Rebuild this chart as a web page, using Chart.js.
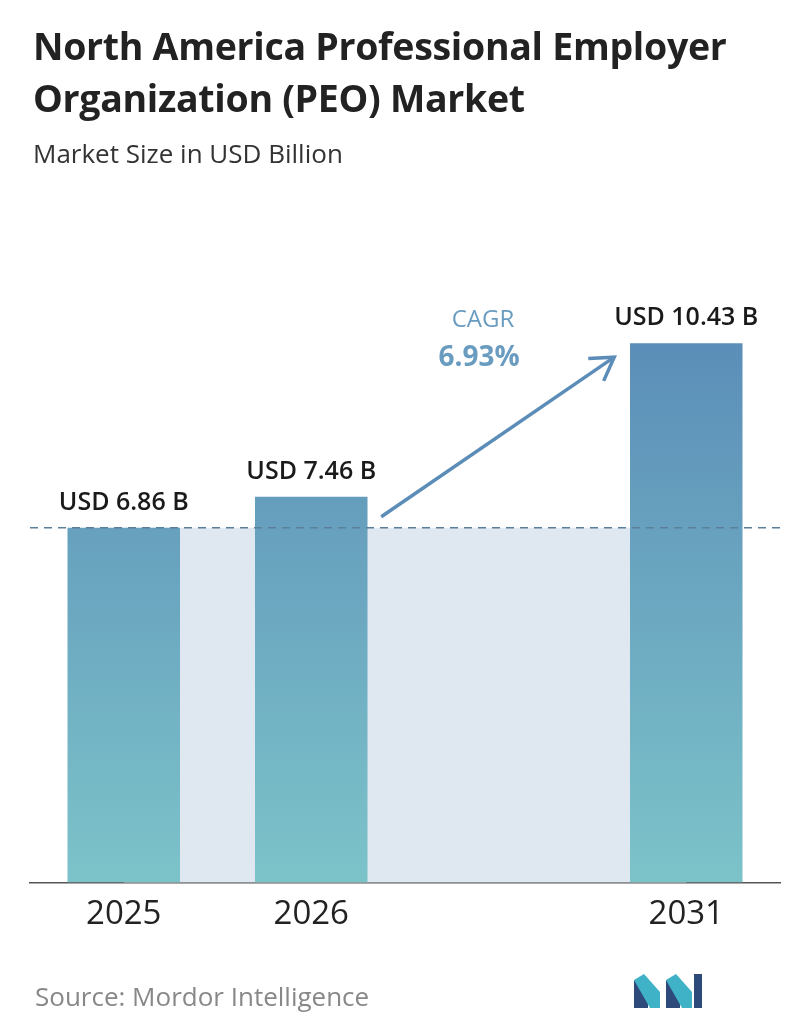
<!DOCTYPE html>
<html>
<head>
<meta charset="utf-8">
<script src="https://cdn.jsdelivr.net/npm/chart.js@4"></script>
<style>
  body { margin: 0; background: #fff; font-family: "Open Sans", sans-serif; }
  #wrap { position: relative; width: 796px; height: 1034px; }
  canvas { position: absolute; left: 0; top: 0; }
  .title { position: absolute; left: 33px; top: 20px; font-size: 37.5px; font-weight: 700; color: #222; line-height: 52px; letter-spacing: -0.3px; }
  .sub { position: absolute; left: 33px; top: 135px; font-size: 26px; color: #333; }
  .src { position: absolute; left: 35px; top: 978px; font-size: 26px; color: #888; }
</style>
</head>
<body>
<div id="wrap">
  <canvas id="myChart" width="796" height="1034"></canvas>
  <div class="title">North America Professional Employer<br>Organization (PEO) Market</div>
  <div class="sub">Market Size in USD Billion</div>
  <div class="src">Source: Mordor Intelligence</div>
  <svg style="position:absolute;left:634px;top:974px" width="68" height="34" viewBox="0 0 68 34">
    <polygon points="0,34 0,6 14,20 14,34" fill="#2e4a7a"/>
    <polygon points="0,6 10,0 26,18 26,34 16,34" fill="#3fb2c8"/>
    <polygon points="32,34 32,6 46,20 46,34" fill="#2e4a7a"/>
    <polygon points="32,6 42,0 58,18 58,34 48,34" fill="#3fb2c8"/>
    <rect x="60" y="0" width="8" height="34" fill="#2e4a7a"/>
  </svg>
</div>
<script>
/** Daten */
var years = ['2025', '2026', '', '2031'];
var values = [6.86, 7.46, null, 10.43];
var valueLabels = ['USD 6.86 B', 'USD 7.46 B', '', 'USD 10.43 B'];
var cagrText = 'CAGR';
var cagrValue = '6.93%';

/** Hintergrund, gestrichelte Linie, Pfeil, Beschriftungen */
var extras = {
  id: 'extras',
  beforeDatasetsDraw: function(chart) {
    var c = chart.ctx, y = chart.scales.y;
    var meta = chart.getDatasetMeta(0);
    var yBase = y.getPixelForValue(values[0]);
    var yZero = y.getPixelForValue(0);
    c.save();
    c.fillStyle = '#dfe7f0';
    c.fillRect(meta.data[0].x, yBase, meta.data[3].x - meta.data[0].x, yZero - yBase);
    c.restore();
  },
  afterDatasetsDraw: function(chart) {
    var c = chart.ctx, y = chart.scales.y;
    var meta = chart.getDatasetMeta(0);
    var yBase = y.getPixelForValue(values[0]);
    c.save();
    c.strokeStyle = '#5c7f99';
    c.lineWidth = 1.5;
    c.setLineDash([8, 6]);
    c.beginPath(); c.moveTo(30, yBase); c.lineTo(780, yBase); c.stroke();
    c.setLineDash([]);
    // Werte
    c.fillStyle = '#1a1a1a';
    c.font = '600 25px "Open Sans"';
    c.textAlign = 'center';
    meta.data.forEach(function(bar, i) {
      if (values[i] == null) return;
      c.fillText(valueLabels[i], bar.x, bar.y - 18);
    });
    // Pfeil
    var b1 = meta.data[1], b3 = meta.data[3];
    var x0 = b1.x + 70, y0 = b1.y + 20, x1 = b3.x - 72, y1 = b3.y + 14;
    c.strokeStyle = '#5b8db8';
    c.lineWidth = 3.5;
    c.beginPath(); c.moveTo(x0, y0); c.lineTo(x1, y1); c.stroke();
    var a = Math.atan2(y1 - y0, x1 - x0);
    c.beginPath();
    c.moveTo(x1 - 26 * Math.cos(a - 0.55), y1 - 26 * Math.sin(a - 0.55));
    c.lineTo(x1, y1);
    c.lineTo(x1 - 26 * Math.cos(a + 0.55), y1 - 26 * Math.sin(a + 0.55));
    c.stroke();
    // CAGR
    c.fillStyle = '#6a9cc0';
    c.font = '24px "Open Sans"';
    c.fillText(cagrText, 483, 327);
    c.font = 'bold 28px "Open Sans"';
    c.fillText(cagrValue, 479, 366);
    c.restore();
  }
};

var ctx = document.getElementById('myChart').getContext('2d');
var grad = ctx.createLinearGradient(0, 330, 0, 882);
grad.addColorStop(0, '#5b8db8');
grad.addColorStop(1, '#7cc3c9');

new Chart(ctx, {
  type: 'bar',
  data: {
    labels: years,
    datasets: [{
      data: values,
      backgroundColor: grad,
      barPercentage: 1,
      categoryPercentage: 0.6
    }]
  },
  plugins: [extras],
  options: {
    responsive: false,
    animation: false,
    layout: { padding: { left: 30, right: 16, top: 262, bottom: 88 } },
    plugins: { legend: { display: false }, tooltip: { enabled: false } },
    scales: {
      x: {
        grid: { display: false, drawTicks: false },
        border: { color: '#555', width: 1.5 },
        ticks: { color: '#222', font: { size: 33, family: 'Open Sans' }, padding: 12 }
      },
      y: { display: false, min: 0, max: 12 }
    }
  }
});
</script>
</body>
</html>
